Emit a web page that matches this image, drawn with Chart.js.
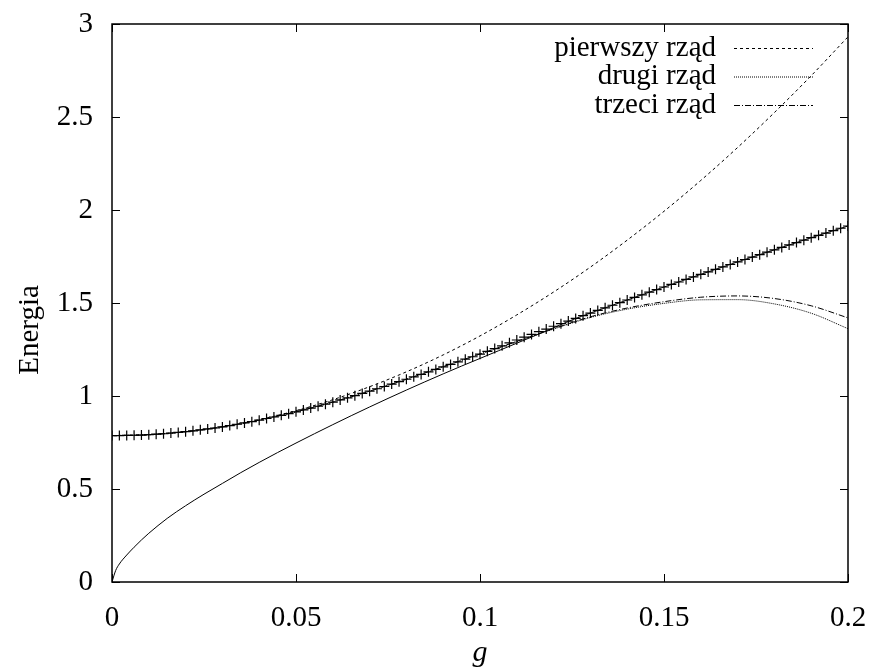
<!DOCTYPE html>
<html>
<head>
<meta charset="utf-8">
<script src="https://cdn.jsdelivr.net/npm/chart.js@4.4.0/dist/chart.umd.min.js"></script>
<style>
  body { margin: 0; background: #fff; }
  canvas { display: block; }
</style>
</head>
<body>
<canvas id="chartCanvas" width="876" height="671"></canvas>
<script>
// g grid of the numerical (+) points
const gFine = [
  0.000, 0.002, 0.004, 0.006, 0.008, 0.010, 0.012, 0.014, 0.016, 0.018,
  0.020, 0.022, 0.024, 0.026, 0.028, 0.030, 0.032, 0.034, 0.036, 0.038,
  0.040, 0.042, 0.044, 0.046, 0.048, 0.050, 0.052, 0.054, 0.056, 0.058,
  0.060, 0.062, 0.064, 0.066, 0.068, 0.070, 0.072, 0.074, 0.076, 0.078,
  0.080, 0.082, 0.084, 0.086, 0.088, 0.090, 0.092, 0.094, 0.096, 0.098,
  0.100, 0.102, 0.104, 0.106, 0.108, 0.110, 0.112, 0.114, 0.116, 0.118,
  0.120, 0.122, 0.124, 0.126, 0.128, 0.130, 0.132, 0.134, 0.136, 0.138,
  0.140, 0.142, 0.144, 0.146, 0.148, 0.150, 0.152, 0.154, 0.156, 0.158,
  0.160, 0.162, 0.164, 0.166, 0.168, 0.170, 0.172, 0.174, 0.176, 0.178,
  0.180, 0.182, 0.184, 0.186, 0.188, 0.190, 0.192, 0.194, 0.196, 0.198,
  0.200
];
const exactE = [
  0.787, 0.787, 0.788, 0.789, 0.790, 0.792, 0.795, 0.797, 0.801, 0.804,
  0.808, 0.813, 0.818, 0.823, 0.828, 0.834, 0.841, 0.848, 0.855, 0.862,
  0.870, 0.879, 0.887, 0.896, 0.905, 0.915, 0.925, 0.935, 0.945, 0.956,
  0.967, 0.979, 0.990, 1.002, 1.014, 1.026, 1.039, 1.051, 1.064, 1.077,
  1.090, 1.103, 1.116, 1.130, 1.143, 1.157, 1.170, 1.184, 1.198, 1.211,
  1.225, 1.240, 1.255, 1.270, 1.286, 1.301, 1.316, 1.331, 1.346, 1.360,
  1.375, 1.389, 1.403, 1.417, 1.432, 1.446, 1.460, 1.474, 1.488, 1.502,
  1.516, 1.530, 1.544, 1.558, 1.572, 1.586, 1.600, 1.613, 1.627, 1.640,
  1.654, 1.667, 1.681, 1.694, 1.707, 1.721, 1.734, 1.747, 1.760, 1.773,
  1.786, 1.799, 1.812, 1.825, 1.838, 1.851, 1.864, 1.876, 1.889, 1.902,
  1.914
];

// solid curve (starts at 0, joins the + points)
const solidG = [0, 0.001, 0.002, 0.004, 0.006, 0.008, 0.01, 0.015, 0.02, 0.025,
  0.03, 0.035, 0.04, 0.045, 0.05, 0.055, 0.06, 0.065, 0.07, 0.075, 0.08, 0.085,
  0.09, 0.095, 0.1, 0.105, 0.11, 0.115, 0.12, 0.125, 0.13, 0.14, 0.15, 0.16,
  0.17, 0.18, 0.19, 0.2];
const solidE = [0, 0.062, 0.097, 0.145, 0.187, 0.226, 0.262, 0.342, 0.410, 0.472,
  0.530, 0.588, 0.643, 0.696, 0.747, 0.797, 0.846, 0.894, 0.941, 0.987, 1.032, 1.076,
  1.119, 1.161, 1.202, 1.243, 1.284, 1.325, 1.367, 1.409, 1.446, 1.516, 1.586, 1.654,
  1.721, 1.786, 1.851, 1.914];

// perturbation orders
const orderG = [0, 0.01, 0.02, 0.03, 0.04, 0.05, 0.06, 0.07, 0.08, 0.09, 0.1,
  0.11, 0.12, 0.13, 0.14, 0.15, 0.16, 0.17, 0.18, 0.19, 0.2];
const firstOrder = [0.787, 0.792, 0.808, 0.835, 0.873, 0.921, 0.980, 1.050, 1.130, 1.221, 1.323,
  1.436, 1.559, 1.693, 1.838, 1.993, 2.159, 2.336, 2.524, 2.722, 2.931];
const secondOrder = [0.787, 0.792, 0.808, 0.834, 0.870, 0.915, 0.967, 1.026, 1.090, 1.157, 1.225,
  1.292, 1.360, 1.422, 1.467, 1.498, 1.517, 1.518, 1.495, 1.445, 1.362];
const thirdOrder = [0.787, 0.792, 0.808, 0.834, 0.870, 0.915, 0.967, 1.026, 1.090, 1.158, 1.226,
  1.294, 1.362, 1.426, 1.473, 1.507, 1.531, 1.538, 1.524, 1.485, 1.420];

const legendNames = ['pierwszy rząd', 'drugi rząd', 'trzeci rząd'];
const xTicks = [0, 0.05, 0.1, 0.15, 0.2];
const xTickLabels = ['0', '0.05', '0.1', '0.15', '0.2'];
const yTicks = [0, 0.5, 1, 1.5, 2, 2.5, 3];
const yTickLabels = ['0', '0.5', '1', '1.5', '2', '2.5', '3'];
const yTitle = 'Energia';

const FONT = '"Liberation Serif", "DejaVu Serif", serif';
const dashes = [[3, 3], [1, 1], [6, 2, 1, 2]];

function pts(xs, ys) {
  return xs.map((g, i) => ({x: g, y: ys[i]}));
}

const framePlugin = {
  id: 'frame',
  afterDatasetsDraw(chart) {
    const ctx = chart.ctx;
    const a = chart.chartArea;
    const x = chart.scales.x, y = chart.scales.y;
    ctx.save();
    ctx.strokeStyle = '#000';
    ctx.lineWidth = 1;
    ctx.beginPath();
    xTicks.forEach(v => {
      const px = Math.round(x.getPixelForValue(v)) + 0.5;
      ctx.moveTo(px, a.bottom); ctx.lineTo(px, a.bottom - 8);
      ctx.moveTo(px, a.top); ctx.lineTo(px, a.top + 8);
    });
    yTicks.forEach(v => {
      const py = Math.round(y.getPixelForValue(v)) + 0.5;
      ctx.moveTo(a.left, py); ctx.lineTo(a.left + 8, py);
      ctx.moveTo(a.right, py); ctx.lineTo(a.right - 8, py);
    });
    ctx.stroke();
    ctx.lineWidth = 1.5;
    ctx.strokeRect(a.left, a.top, a.right - a.left, a.bottom - a.top);

    // y title, a bit below the middle like the original
    ctx.fillStyle = '#000';
    ctx.font = '29px ' + FONT;
    ctx.save();
    ctx.translate(30, 330);
    ctx.rotate(-Math.PI / 2);
    ctx.textAlign = 'center';
    ctx.textBaseline = 'middle';
    ctx.fillText(yTitle, 0, 0);
    ctx.restore();

    // key, top right
    ctx.textAlign = 'right';
    ctx.textBaseline = 'middle';
    ctx.lineWidth = 1;
    legendNames.forEach((name, i) => {
      const ly = 48 + i * 28.5;
      ctx.fillText(name, 716, ly);
      ctx.setLineDash(dashes[i]);
      ctx.beginPath();
      ctx.moveTo(734, ly + 0.5);
      ctx.lineTo(813, ly + 0.5);
      ctx.stroke();
    });
    ctx.restore();
  }
};

const ctx = document.getElementById('chartCanvas').getContext('2d');
new Chart(ctx, {
  type: 'line',
  data: {
    datasets: [
      {
        data: pts(solidG, solidE),
        borderColor: '#000', borderWidth: 1, pointRadius: 0,
        cubicInterpolationMode: 'monotone'
      },
      {
        data: pts(gFine, exactE),
        showLine: false, pointStyle: 'cross', pointRadius: 5,
        borderColor: '#000', pointBorderWidth: 1.2
      },
      {
        data: pts(orderG, firstOrder),
        borderColor: '#000', borderWidth: 1, borderDash: dashes[0], pointRadius: 0,
        cubicInterpolationMode: 'monotone'
      },
      {
        data: pts(orderG, secondOrder),
        borderColor: '#000', borderWidth: 1, borderDash: dashes[1], pointRadius: 0,
        cubicInterpolationMode: 'monotone'
      },
      {
        data: pts(orderG, thirdOrder),
        borderColor: '#000', borderWidth: 1, borderDash: dashes[2], pointRadius: 0,
        cubicInterpolationMode: 'monotone'
      }
    ]
  },
  options: {
    responsive: false,
    animation: false,
    devicePixelRatio: 1,
    layout: { padding: { top: 24, right: 28, left: 0, bottom: 0 } },
    plugins: { legend: { display: false }, tooltip: { enabled: false } },
    scales: {
      x: {
        type: 'linear', min: 0, max: 0.2,
        afterBuildTicks: s => { s.ticks = xTicks.map(v => ({ value: v })); },
        afterFit: s => { s.height = 89; s.paddingLeft = 0; s.paddingRight = 0; },
        grid: { display: false, drawTicks: false },
        border: { display: false },
        ticks: {
          color: '#000', padding: 19, maxRotation: 0, autoSkip: false,
          font: { family: FONT, size: 29 },
          callback: (v, i) => xTickLabels[i]
        },
        title: {
          display: true, text: 'g', color: '#000',
          font: { family: FONT, size: 30, style: 'italic' },
          padding: { top: 0, bottom: 0 }
        }
      },
      y: {
        type: 'linear', min: 0, max: 3,
        afterBuildTicks: s => { s.ticks = yTicks.map(v => ({ value: v })); },
        afterFit: s => { s.width = 112; s.paddingTop = 0; s.paddingBottom = 0; },
        grid: { display: false, drawTicks: false },
        border: { display: false },
        ticks: {
          color: '#000', padding: 19, autoSkip: false,
          font: { family: FONT, size: 29 },
          callback: (v, i) => yTickLabels[i]
        }
      }
    }
  },
  plugins: [framePlugin]
});
</script>
</body>
</html>
